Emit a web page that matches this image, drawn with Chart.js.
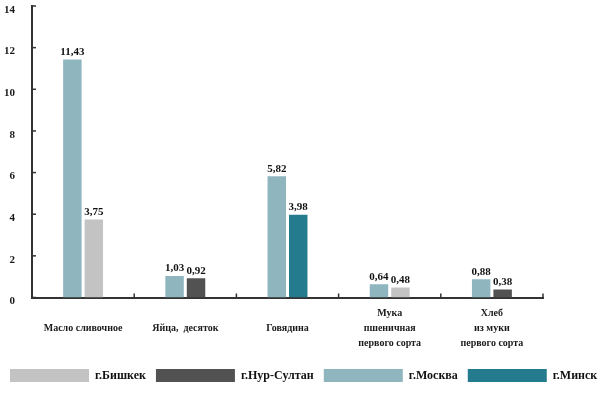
<!DOCTYPE html>
<html>
<head>
<meta charset="utf-8">
<script src="https://cdn.jsdelivr.net/npm/chart.js@4/dist/chart.umd.min.js"></script>
<style>
  html, body { margin: 0; padding: 0; background: #fff; }
  #wrap { width: 615px; height: 394px; }
</style>
</head>
<body>
<div id="wrap"><canvas id="chart" width="615" height="394"></canvas></div>
<script>
// категории (подписи по оси X)
const categories = [
    'Масло сливочное',
    'Яйца,  десяток',
    'Говядина',
    ['Мука', 'пшеничная', 'первого сорта'],
    ['Хлеб', 'из муки', 'первого сорта']
];

// цены по городам (null = нет данных)
const moskva    = [11.43, 1.03, 5.82, 0.64, 0.88];
const bishkek   = [3.75, null, null, 0.48, null];
const nurSultan = [null, 0.92, null, null, 0.38];
const minsk     = [null, null, 3.98, null, null];

const yTicks = [0, 2, 4, 6, 8, 10, 12, 14];
const legendOrder = ['г.Бишкек', 'г.Нур-Султан', 'г.Москва', 'г.Минск'];

const FONT = "'Liberation Serif', 'DejaVu Serif', serif";
Chart.defaults.font.family = FONT;
Chart.defaults.font.weight = 'bold';
Chart.defaults.color = '#1a1a1a';

// подписи значений над столбиками
const valueLabels = {
    id: 'valueLabels',
    afterDatasetsDraw(chart) {
        const ctx = chart.ctx;
        ctx.save();
        ctx.font = 'bold 11px ' + FONT;
        ctx.fillStyle = '#111';
        ctx.textAlign = 'center';
        ctx.textBaseline = 'bottom';
        chart.data.datasets.forEach((ds, i) => {
            const meta = chart.getDatasetMeta(i);
            meta.data.forEach((bar, j) => {
                const v = ds.data[j];
                if (v === null || v === undefined) return;
                ctx.fillText(v.toFixed(2).replace('.', ','), bar.x, bar.y - 2);
            });
        });
        ctx.restore();
    }
};

// засечки внутрь графика
const innerTicks = {
    id: 'innerTicks',
    afterDraw(chart) {
        const ctx = chart.ctx;
        const x = chart.scales.x, y = chart.scales.y;
        ctx.save();
        ctx.strokeStyle = '#333';
        ctx.lineWidth = 1.5;
        y.ticks.forEach(t => {
            const py = y.getPixelForValue(t.value);
            ctx.beginPath();
            ctx.moveTo(y.right, py);
            ctx.lineTo(y.right + 4, py);
            ctx.stroke();
        });
        for (let i = 1; i <= categories.length; i++) {
            const px = x.getPixelForValue(i - 0.5);
            ctx.beginPath();
            ctx.moveTo(px, x.top);
            ctx.lineTo(px, x.top - 4);
            ctx.stroke();
        }
        ctx.restore();
    }
};

new Chart(document.getElementById('chart'), {
    type: 'bar',
    data: {
        labels: categories,
        datasets: [
            { label: 'г.Москва', data: moskva, backgroundColor: '#8fb5bf' },
            { label: 'г.Бишкек', data: bishkek, backgroundColor: '#c3c3c3' },
            { label: 'г.Нур-Султан', data: nurSultan, backgroundColor: '#525252' },
            { label: 'г.Минск', data: minsk, backgroundColor: '#247b8e' }
        ]
    },
    options: {
        responsive: false,
        animation: false,
        devicePixelRatio: 1,
        datasets: {
            bar: { skipNull: true, categoryPercentage: 0.42, barPercentage: 0.86 }
        },
        layout: { padding: { left: 0, right: 0, top: 0, bottom: 2 } },
        scales: {
            x: {
                grid: { display: false },
                border: { display: true, color: '#333', width: 2 },
                ticks: {
                    font: { size: 10, weight: 'bold', lineHeight: 1.5 },
                    maxRotation: 0,
                    autoSkip: false,
                    padding: 8,
                    crossAlign: 'center'
                },
                afterFit(scale) { scale.height = 61.5; }
            },
            y: {
                min: 0,
                max: 14,
                grid: { display: false },
                border: { display: true, color: '#333', width: 2 },
                ticks: {
                    stepSize: 2,
                    font: { size: 11, weight: 'bold' },
                    padding: 9,
                    labelOffset: 4,
                    callback: (v) => yTicks.includes(v) ? String(v) : ''
                },
                afterFit(scale) {
                    scale.width = 32;
                    scale.paddingTop = 6;
                    scale.paddingBottom = 0;
                }
            },
            // пустое место справа от графика
            yRight: {
                position: 'right',
                grid: { display: false },
                border: { display: false },
                ticks: { display: false },
                afterFit(scale) {
                    scale.width = 72;
                    scale.paddingTop = 0;
                    scale.paddingBottom = 0;
                }
            }
        },
        plugins: {
            legend: {
                position: 'bottom',
                align: 'start',
                labels: {
                    boxWidth: 79,
                    boxHeight: 13,
                    padding: 10,
                    font: { size: 12, weight: 'bold' },
                    color: '#111',
                    generateLabels(chart) {
                        const items = Chart.defaults.plugins.legend.labels.generateLabels(chart);
                        return legendOrder.map(name => items.find(it => it.text === name));
                    }
                }
            },
            tooltip: { enabled: false }
        }
    },
    plugins: [valueLabels, innerTicks]
});
</script>
</body>
</html>
